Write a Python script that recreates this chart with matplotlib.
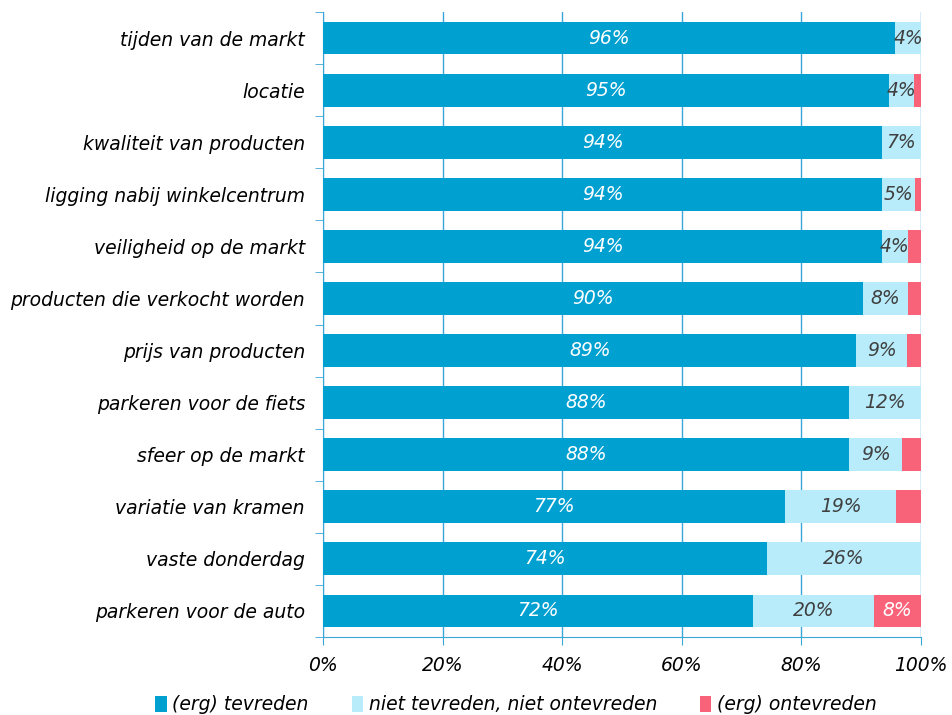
import matplotlib.pyplot as plt
import numpy as np
from matplotlib.ticker import FixedLocator, PercentFormatter

categories = ['tijden van de markt', 'locatie', 'kwaliteit van producten',
              'ligging nabij winkelcentrum', 'veiligheid op de markt',
              'producten die verkocht worden', 'prijs van producten',
              'parkeren voor de fiets', 'sfeer op de markt',
              'variatie van kramen', 'vaste donderdag', 'parkeren voor de auto']
tevreden = [95.7, 94.6, 93.5, 93.5, 93.5, 90.3, 89.2, 88.0, 88.0, 77.3, 74.2, 71.9]
neutraal = [4.3, 4.3, 6.5, 5.5, 4.3, 7.5, 8.5, 12.0, 8.8, 18.5, 25.8, 20.2]
ontevreden = [0.0, 1.1, 0.0, 1.0, 2.2, 2.2, 2.3, 0.0, 3.2, 4.2, 0.0, 7.9]
labels_tev = ['96%', '95%', '94%', '94%', '94%', '90%', '89%', '88%', '88%', '77%', '74%', '72%']
labels_neu = ['4%', '4%', '7%', '5%', '4%', '8%', '9%', '12%', '9%', '19%', '26%', '20%']
labels_ont = ['', '', '', '', '', '', '', '', '', '', '', '8%']
series_names = ['(erg) tevreden', 'niet tevreden, niet ontevreden', '(erg) ontevreden']

c_blue = '#00a0d1'
c_light = '#b8ecfb'
c_red = '#f8637a'
c_axis = '#3aa6d8'
fs = 13.5

fig = plt.figure(figsize=(9.52, 7.15), dpi=100)
ax = fig.add_axes([323 / 952, 1 - 637 / 715, 598 / 952, 625 / 715])

y = np.arange(len(categories))
h = 0.63
left2 = np.array(tevreden)
left3 = left2 + np.array(neutraal)
ax.barh(y, tevreden, height=h, color=c_blue, label=series_names[0], zorder=3)
ax.barh(y, neutraal, left=left2, height=h, color=c_light, label=series_names[1], zorder=3)
ax.barh(y, ontevreden, left=left3, height=h, color=c_red, label=series_names[2], zorder=3)

for i in range(len(categories)):
    ax.text(tevreden[i] / 2, y[i], labels_tev[i], ha='center', va='center',
            color='white', fontsize=fs, style='italic', zorder=4)
    ax.text(left2[i] + neutraal[i] / 2, y[i], labels_neu[i], ha='center', va='center',
            color='#404040', fontsize=fs, style='italic', zorder=4)
    if labels_ont[i]:
        ax.text(left3[i] + ontevreden[i] / 2, y[i], labels_ont[i], ha='center', va='center',
                color='white', fontsize=fs, style='italic', zorder=4)

ax.set_xlim(0, 100)
ax.set_ylim(len(categories) - 0.5, -0.5)
ax.set_xticks(np.arange(0, 101, 20))
ax.xaxis.set_major_formatter(PercentFormatter(decimals=0))
ax.set_yticks(y)
ax.set_yticklabels(categories, fontsize=fs, style='italic')
ax.yaxis.set_minor_locator(FixedLocator(np.arange(-0.5, len(categories), 1)))
ax.tick_params(axis='y', which='major', length=0, pad=13)
ax.tick_params(axis='y', which='minor', length=6, color=c_axis)
ax.tick_params(axis='x', length=6, color=c_axis, pad=8, labelsize=fs)
for lab in ax.get_xticklabels():
    lab.set_style('italic')
ax.grid(axis='x', color=c_axis, linewidth=1, zorder=0)
for side in ['top', 'right']:
    ax.spines[side].set_visible(False)
for side in ['left', 'bottom']:
    ax.spines[side].set_color(c_axis)

leg = fig.legend(loc='center', bbox_to_anchor=(0.542, 1 - 705 / 715), ncol=3, frameon=False,
                 handlelength=0.6, handleheight=0.9, handletextpad=0.3, columnspacing=2.3,
                 prop={'size': fs, 'style': 'italic'})

fig.savefig('out.png', dpi=100)
